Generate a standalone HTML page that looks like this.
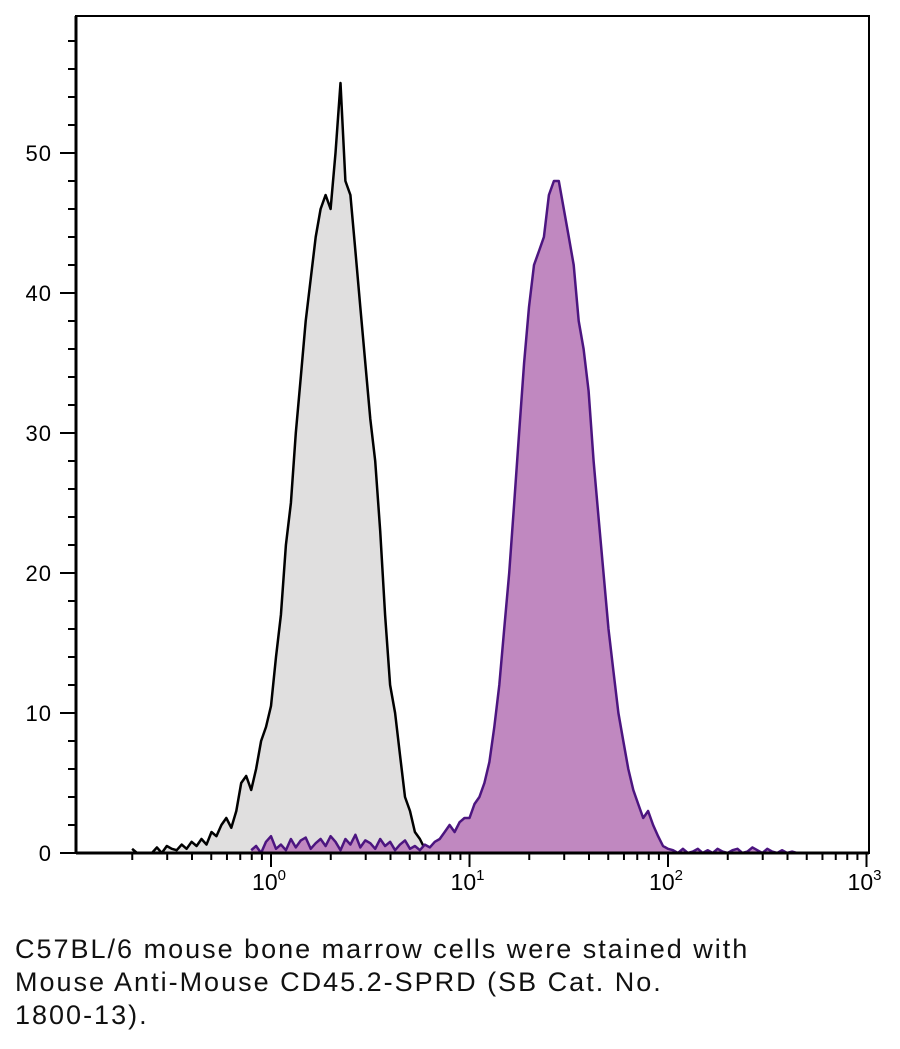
<!DOCTYPE html>
<html><head><meta charset="utf-8"><style>
body{margin:0;background:#fff;width:900px;height:1049px;overflow:hidden;font-family:"Liberation Sans",sans-serif}
#cap{position:absolute;left:15px;top:933px;font-size:27px;line-height:33px;color:#111;width:890px;letter-spacing:2px;white-space:nowrap}
</style></head><body>
<svg id="chart" width="900" height="930" style="position:absolute;left:0;top:0"></svg>
<div id="cap">C57BL/6 mouse bone marrow cells were stained with<br>Mouse Anti-Mouse CD45.2-SPRD (SB Cat. No.<br>1800-13).</div>
<script>
const blackStart=-0.7, step=0.025;
const blackVals=[0.3,0,0,0,0,0.4,0,0.5,0.3,0.2,0.6,0.3,0.8,0.5,1.0,0.6,1.5,1.2,2.0,2.5,1.8,3.0,5.0,5.5,4.5,6.0,8.0,9.0,10.5,14,17,22,25,30,34,38,41,44,46,47,46,50,55,48,47,43,39,35,31,28,23,17,12,10,7,4,3,1.5,1.0,0.3,0];
const purpleStart=-0.1;
const purpleVals=[0.2,0.5,0,0.8,1.2,0.3,0.6,0.2,1.0,0.4,0.9,1.1,0.3,0.7,1.0,0.5,1.2,0.8,0.2,1.0,0.6,1.3,0.4,0.9,0.7,0.3,1.0,0.5,0.8,0.2,0.6,0.9,0.3,0.5,0.2,0.6,0.4,
0.8,1,1.5,2,1.5,2.2,2.5,2.5,3.5,4,5,6.5,9,12,16,20,25,30,35,39,42,43,44,47,48,48,46,44,42,38,36,33,28,24,20,16,13,10,8,6,4.5,3.5,2.5,3,2,1.2,0.5,0.3,
0.2,0,0.3,0,0.1,0.3,0,0.2,0,0.3,0.1,0,0.2,0.3,0,0.1,0.4,0.2,0,0.3,0.1,0,0.2,0,0.1,0,0,0];
const yTicks=[0,10,20,30,40,50];
const xDecades=[0,1,2,3];
const L=76,R=869,T=16,B=853;
const xs=l=>271+l*198.5, ys=v=>B-v*14;
const svg=document.getElementById('chart');
const NS='http://www.w3.org/2000/svg';
function mk(t,a){const e=document.createElementNS(NS,t);for(const k in a)e.setAttribute(k,a[k]);svg.appendChild(e);return e;}
function area(start,vals,fill,stroke,name){
  let pts=vals.map((v,i)=>xs(start+i*step).toFixed(1)+','+ys(v).toFixed(1));
  const x0=xs(start),x1=xs(start+(vals.length-1)*step);
  const a=mk('polygon',{points:x0+','+B+' '+pts.join(' ')+' '+x1+','+B,fill:fill});
  
  
  const l=mk('polyline',{points:pts.join(' '),fill:'none',stroke:stroke,'stroke-width':2.5,'stroke-linejoin':'round'});
  
  
}
area(blackStart,blackVals,'#e0dfdf','#000','control-histogram');
area(purpleStart,purpleVals,'#c088c0','#4c1580','stained-histogram');
const fr=mk('rect',{x:L,y:T,width:R-L,height:B-T,fill:'none',stroke:'#000','stroke-width':2});


mk('line',{x1:L,x2:L,y1:T,y2:B,stroke:'#000','stroke-width':3});
mk('line',{x1:L,x2:R,y1:B,y2:B,stroke:'#000','stroke-width':3});
for(let v=0;v<=58;v+=2){const maj=v%10==0;mk('line',{x1:maj?60:68,x2:L,y1:ys(v),y2:ys(v),stroke:'#000','stroke-width':2});}
yTicks.forEach(v=>{const t=mk('text',{x:52,y:ys(v)+8,'text-anchor':'end','font-size':22,'letter-spacing':1,fill:'#000'});t.textContent=v;

});
for(let d=-1;d<3;d++)for(let m=1;m<10;m++){const l=d+Math.log10(m);const x=xs(l);if(x<L+5)continue;mk('line',{x1:x,x2:x,y1:B,y2:B+(m==1?14:7),stroke:'#000','stroke-width':2});}
mk('line',{x1:xs(3),x2:xs(3),y1:B,y2:B+14,stroke:'#000','stroke-width':2});
xDecades.forEach(d=>{const t=mk('text',{x:xs(d)-2,y:B+37,'text-anchor':'middle','font-size':23,fill:'#000'});
t.innerHTML='10<tspan dy="-10" font-size="15">'+d+'</tspan>';

});
</script>
</body></html>
